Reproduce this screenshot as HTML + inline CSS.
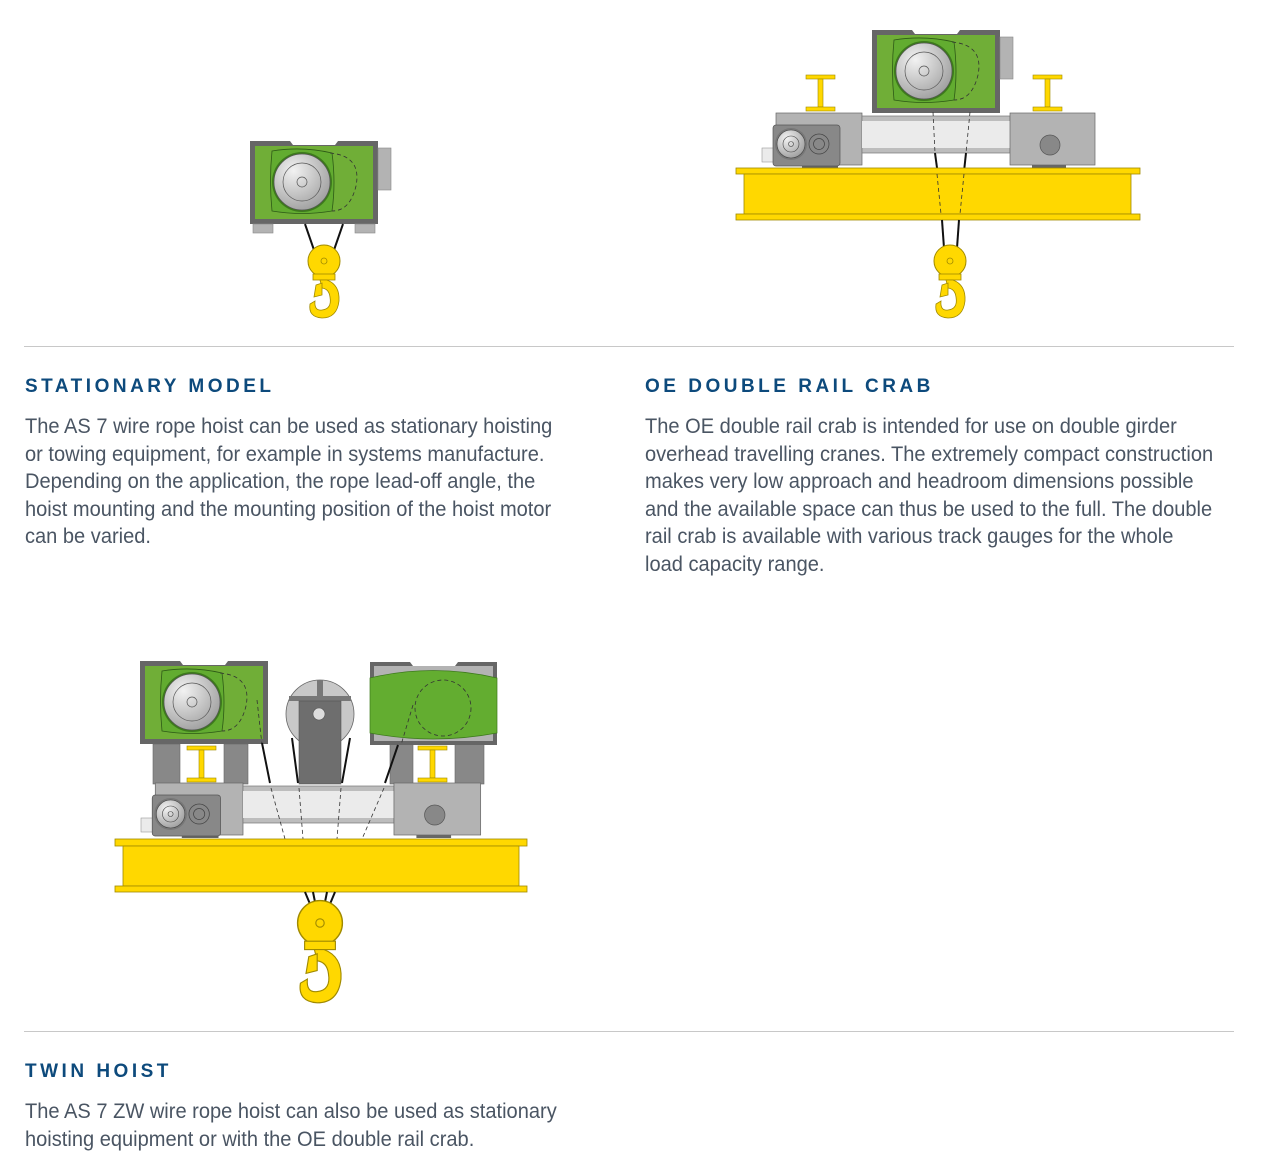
<!DOCTYPE html>
<html><head><meta charset="utf-8"><style>
html,body{margin:0;padding:0;background:#fff;}
body{width:1262px;height:1174px;position:relative;overflow:hidden;font-family:"Liberation Sans",sans-serif;}
.h{position:absolute;font-weight:bold;font-size:19px;letter-spacing:3.5px;color:#0d4a7c;white-space:nowrap;}
.p{position:absolute;font-size:21px;line-height:27.5px;color:#4a5563;white-space:nowrap;transform:scaleX(0.955);transform-origin:0 0;}
.hr{position:absolute;left:24px;width:1210px;height:1px;background:#c8c8c8;}
svg{position:absolute;left:0;top:0;}
</style></head><body>
<svg width="1262" height="1174" viewBox="0 0 1262 1174">
<defs>
<radialGradient id="dg" cx="0.35" cy="0.3" r="0.8"><stop offset="0" stop-color="#f2f2f2"/><stop offset="1" stop-color="#9a9a9a"/></radialGradient>
<g id="hoist">
 <path d="M0 0 H40 L43 4 H85 L88 0 H128 V83 H0 Z" fill="#666"/>
 <rect x="5" y="5" width="118" height="73" fill="#70ae37"/>
 <path d="M22 10 Q52 5 82 12 Q86 42 82 70 Q52 75 22 70 Q19 40 22 10Z" fill="#62ac30" stroke="#2d5a16" stroke-width="0.8"/>
 <path d="M80 12 Q112 15 106 45 Q100 70 82 70" fill="none" stroke="#333" stroke-width="0.8" stroke-dasharray="4 3"/>
 <circle cx="52" cy="41" r="30" fill="#3d7a1c"/>
 <circle cx="52" cy="41" r="28" fill="url(#dg)" stroke="#555" stroke-width="0.7"/>
 <circle cx="52" cy="41" r="19" fill="none" stroke="#555" stroke-width="0.7"/>
 <circle cx="52" cy="41" r="5" fill="none" stroke="#555" stroke-width="0.7"/>
</g>
<g id="side"><rect x="128" y="7" width="13" height="42" fill="#b3b3b3" stroke="#888" stroke-width="0.6"/></g>
<g id="hook">
 <circle cx="0" cy="0" r="16" fill="#ffd800" stroke="#a08a00" stroke-width="1"/>
 <circle cx="0" cy="0" r="3" fill="none" stroke="#a08a00" stroke-width="0.8"/>
 <rect x="-11" y="13" width="22" height="6" fill="#ffd800" stroke="#a08a00" stroke-width="0.8"/>
 <path d="M-4 19 L3 19 Q16 24 15 40 Q13 57 -2 57 Q-16 56 -14 43 L-9 40 Q-10 50 -2 49 Q8 48 6 36 Q5 28 -2 27 Z" fill="#ffd800" stroke="#a08a00" stroke-width="0.8"/>
 <path d="M-8 24 L-2 22 L-2 34 L-10 36Z" fill="#ffd800" stroke="#a08a00" stroke-width="0.8"/>
</g>
<g id="ibeam">
 <rect x="0" y="0" width="29" height="4" fill="#ffd800" stroke="#a08a00" stroke-width="0.6"/>
 <rect x="12" y="4" width="5" height="28" fill="#ffd800" stroke="#a08a00" stroke-width="0.6"/>
 <rect x="0" y="32" width="29" height="4" fill="#ffd800" stroke="#a08a00" stroke-width="0.6"/>
</g>
<g id="bed">
 <rect x="0" y="35" width="14" height="14" fill="#ebebeb" stroke="#999" stroke-width="0.6"/>
 <rect x="319" y="35" width="13" height="14" fill="#ebebeb" stroke="#999" stroke-width="0.6"/>
 <rect x="14" y="0" width="86" height="52" fill="#b3b3b3" stroke="#666" stroke-width="0.7"/>
 <rect x="100" y="3" width="148" height="37" fill="#bdbdbd" stroke="#777" stroke-width="0.7"/>
 <rect x="100" y="8" width="148" height="27" fill="#ebebeb"/>
 <rect x="248" y="0" width="85" height="52" fill="#b3b3b3" stroke="#666" stroke-width="0.7"/>
 <circle cx="288" cy="32" r="10" fill="#888" stroke="#555" stroke-width="0.7"/>
 <rect x="270" y="52" width="34" height="3" fill="#666"/>
 <rect x="40" y="52" width="36" height="3" fill="#666"/>
 <rect x="11" y="12" width="67" height="41" rx="3" fill="#888" stroke="#555" stroke-width="0.7"/>
 <circle cx="29" cy="31" r="16" fill="#777"/>
 <circle cx="29" cy="31" r="14" fill="url(#dg)" stroke="#444" stroke-width="0.6"/>
 <circle cx="29" cy="31" r="8" fill="none" stroke="#444" stroke-width="0.6"/>
 <circle cx="29" cy="31" r="2.5" fill="none" stroke="#444" stroke-width="0.6"/>
 <circle cx="57" cy="31" r="10" fill="none" stroke="#444" stroke-width="0.7"/>
 <circle cx="57" cy="31" r="5.5" fill="none" stroke="#444" stroke-width="0.7"/>
</g>
</defs>

<!-- Stationary -->
<use href="#hoist" x="250" y="141"/>
<use href="#side" x="250" y="141"/>
<rect x="253" y="224" width="20" height="9" fill="#b3b3b3" stroke="#888" stroke-width="0.6"/>
<rect x="355" y="224" width="20" height="9" fill="#b3b3b3" stroke="#888" stroke-width="0.6"/>
<line x1="305" y1="224" x2="314" y2="250" stroke="#111" stroke-width="2"/>
<line x1="343" y1="224" x2="334" y2="250" stroke="#111" stroke-width="2"/>
<use href="#hook" x="324" y="261"/>

<!-- OE crab -->
<use href="#ibeam" x="806" y="75"/>
<use href="#ibeam" x="1033" y="75"/>
<use href="#bed" x="762" y="113"/>
<use href="#hoist" x="872" y="30"/>
<use href="#side" x="872" y="30"/>
<line x1="935" y1="153" x2="940" y2="190" stroke="#111" stroke-width="2" />
<line x1="966" y1="153" x2="962" y2="190" stroke="#111" stroke-width="2" />
<g transform="translate(736,168)">
 <rect x="0" y="0" width="404" height="6" fill="#ffd800" stroke="#a08a00" stroke-width="0.8"/>
 <rect x="8" y="6" width="387" height="40" fill="#ffd800" stroke="#a08a00" stroke-width="0.8"/>
 <rect x="0" y="46" width="404" height="6" fill="#ffd800" stroke="#a08a00" stroke-width="0.8"/>
</g>
<path d="M933 112 L935 153 M970 112 L966 153 M937 174 L941 214 M964 174 L960 214" stroke="#333" stroke-width="0.8" stroke-dasharray="4 3" fill="none"/>
<line x1="942" y1="220" x2="944" y2="248" stroke="#111" stroke-width="2"/>
<line x1="959" y1="220" x2="957" y2="248" stroke="#111" stroke-width="2"/>
<use href="#hook" x="950" y="261"/>

<!-- Twin -->
<rect x="153" y="744" width="27" height="40" fill="#888" stroke="#666" stroke-width="0.6"/>
<rect x="224" y="744" width="24" height="40" fill="#888" stroke="#666" stroke-width="0.6"/>
<rect x="390" y="744" width="23" height="40" fill="#888" stroke="#666" stroke-width="0.6"/>
<rect x="455" y="744" width="29" height="40" fill="#888" stroke="#666" stroke-width="0.6"/>
<use href="#ibeam" x="187" y="746"/>
<use href="#ibeam" x="418" y="746"/>
<circle cx="320" cy="714" r="34" fill="#c8c8c8" stroke="#666" stroke-width="0.8"/>
<rect x="317" y="680" width="6" height="17" fill="#777"/>
<rect x="289" y="696" width="62" height="5" fill="#777"/>
<rect x="299" y="701" width="42" height="83" fill="#6e6e6e" stroke="#555" stroke-width="0.6"/>
<circle cx="319" cy="714" r="6" fill="#ddd" stroke="#555" stroke-width="0.6"/>
<g transform="translate(141,783) scale(1.02,1)"><use href="#bed"/></g>
<use href="#hoist" x="140" y="661"/>
<path d="M370 662 H410 L413 666 H455 L458 662 H497 V745 H370 Z" fill="#666"/>
<rect x="374" y="666" width="119" height="75" fill="#b3b3b3"/>
<path d="M370 678 Q433 663 497 678 V733 Q433 745 370 733 Z" fill="#63ad30" stroke="#3d7a1c" stroke-width="0.7"/>
<circle cx="443" cy="708" r="28" fill="none" stroke="#333" stroke-width="0.8" stroke-dasharray="4 3"/>
<path d="M257 700 L262 745 M413 705 L401 745" stroke="#333" stroke-width="0.8" stroke-dasharray="4 3" fill="none"/>
<path d="M262 743 L270 783 M292 738 L298 783 M350 738 L342 783 M398 745 L385 783" stroke="#111" stroke-width="2" fill="none"/>
<path d="M271 788 L285 839 M299 788 L303 839 M341 788 L337 839 M384 788 L362 839" stroke="#333" stroke-width="0.8" stroke-dasharray="4 3" fill="none"/>
<g transform="translate(115,839)">
 <rect x="0" y="0" width="412" height="7" fill="#ffd800" stroke="#a08a00" stroke-width="0.8"/>
 <rect x="8" y="7" width="396" height="40" fill="#ffd800" stroke="#a08a00" stroke-width="0.8"/>
 <rect x="0" y="47" width="412" height="6" fill="#ffd800" stroke="#a08a00" stroke-width="0.8"/>
</g>
<path d="M305 892 L310 904 M313 892 L315 902 M327 892 L325 902 M335 892 L330 904" stroke="#111" stroke-width="2"/>
<g transform="translate(320,923) scale(1.4)"><use href="#hook"/></g>
</svg>

<div class="hr" style="top:346px"></div>
<div class="hr" style="top:1031px"></div>

<div class="h" style="left:25px;top:376px">STATIONARY MODEL</div>
<div class="p" style="left:25px;top:413px">The AS 7 wire rope hoist can be used as stationary hoisting<br>or towing equipment, for example in systems manufacture.<br>Depending on the application, the rope lead-off angle, the<br>hoist mounting and the mounting position of the hoist motor<br>can be varied.</div>

<div class="h" style="left:645px;top:376px">OE DOUBLE RAIL CRAB</div>
<div class="p" style="left:645px;top:413px">The OE double rail crab is intended for use on double girder<br>overhead travelling cranes. The extremely compact construction<br>makes very low approach and headroom dimensions possible<br>and the available space can thus be used to the full. The double<br>rail crab is available with various track gauges for the whole<br>load capacity range.</div>

<div class="h" style="left:25px;top:1061px">TWIN HOIST</div>
<div class="p" style="left:25px;top:1098px">The AS 7 ZW wire rope hoist can also be used as stationary<br>hoisting equipment or with the OE double rail crab.</div>
</body></html>
